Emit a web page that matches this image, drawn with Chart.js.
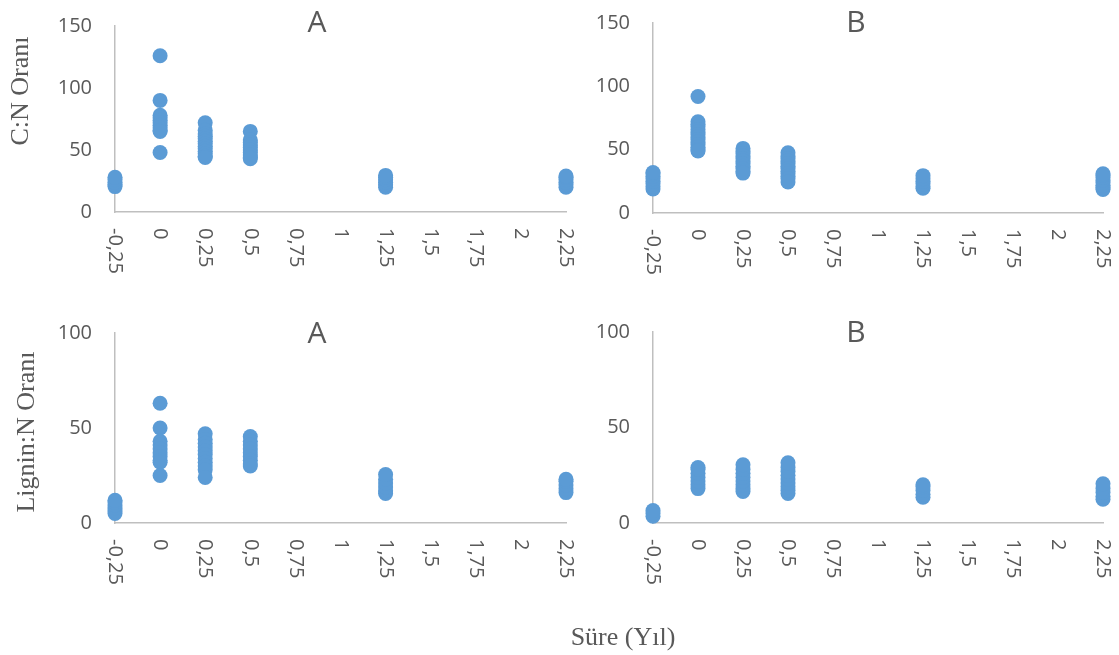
<!DOCTYPE html>
<html lang="tr">
<head>
<meta charset="utf-8">
<title>C:N ve Lignin:N Oranı</title>
<script src="https://cdn.jsdelivr.net/npm/chart.js@4.4.1/dist/chart.umd.min.js"></script>
<style>
  html, body { margin: 0; padding: 0; background: #fff; }
  #wrap { position: relative; width: 1119px; height: 655px; overflow: hidden; }
  canvas { position: absolute; }
  .lbl { position: absolute; color: #595959; line-height: 1; white-space: nowrap; transform: translate(-50%, -50%); }
  .panel-title { font-family: "Open Sans", sans-serif; font-size: 30px; }
  .axis-title { font-family: "Liberation Serif", "Times New Roman", serif; font-size: 26px; }
  .rot { transform: translate(-50%, -50%) rotate(-90deg); }
</style>
</head>
<body>
<div id="wrap">
  <canvas id="cnA" width="580" height="320" style="left:0;top:0"></canvas>
  <canvas id="cnB" width="539" height="320" style="left:580px;top:0"></canvas>
  <canvas id="lnA" width="580" height="335" style="left:0;top:320px"></canvas>
  <canvas id="lnB" width="539" height="335" style="left:580px;top:320px"></canvas>

  <div class="lbl panel-title" style="left:317px;top:21px">A</div>
  <div class="lbl panel-title" style="left:856px;top:21px">B</div>
  <div class="lbl panel-title" style="left:317px;top:332px">A</div>
  <div class="lbl panel-title" style="left:856px;top:331px">B</div>

  <div class="lbl axis-title rot" style="left:20px;top:91px">C:N Oranı</div>
  <div class="lbl axis-title rot" style="left:26px;top:432px">Lignin:N Oranı</div>
  <div class="lbl axis-title" style="left:623px;top:637px">Süre (Yıl)</div>
</div>

<script>
// sampling times (years) and axis ticks
const sampleTimes = [-0.25, 0, 0.25, 0.5, 1.25, 2.25];
const xTickValues = [-0.25, 0, 0.25, 0.5, 0.75, 1, 1.25, 1.5, 1.75, 2, 2.25];
const xTickLabels = ['-0,25', '0', '0,25', '0,5', '0,75', '1', '1,25', '1,5', '1,75', '2', '2,25'];
const yTicksCN = [0, 50, 100, 150];
const yTicksLN = [0, 50, 100];

// C:N ratio, one list per sampling time
const cnA = [
  [20.5, 22, 24, 26, 28],
  [126, 90, 78, 76, 74, 72, 70, 68, 66, 65, 48],
  [72, 66, 63, 61, 59, 57, 55, 53, 51, 49, 47, 45, 44],
  [65, 58, 56, 54, 52, 50, 48, 46, 44, 43],
  [20, 22, 24, 26, 28, 29.5],
  [20, 22, 24, 26, 28, 29]
];
const cnB = [
  [19, 21, 23, 25, 27, 29, 31, 32],
  [92, 72, 70, 68, 66, 64, 62, 60, 58, 56, 54, 52, 50, 49],
  [51, 49, 47, 45, 43, 41, 39, 37, 35, 33, 31.5],
  [47.5, 45, 43, 41, 39, 37, 35, 33, 31, 29, 27, 24.5],
  [19.5, 21, 23, 25, 27, 29.5],
  [18.5, 20, 22, 24, 26, 28, 30, 31]
];

// Lignin:N ratio
const lnA = [
  [5, 6.5, 8, 9.5, 11, 12],
  [63, 50, 43, 41, 39, 37, 35, 33, 32, 25],
  [47, 44, 42, 40, 38, 36, 34, 32, 30, 28, 24],
  [45.5, 43, 41, 39, 37, 35, 33, 31, 30],
  [15.5, 17, 19, 21, 23, 25.5],
  [16, 18, 20, 22, 23]
];
const lnB = [
  [3.5, 5, 6.5],
  [18, 20, 22, 24, 26, 28, 29],
  [16.5, 18, 20, 22, 24, 26, 28, 30.5],
  [15.5, 17, 19, 21, 23, 25, 27, 29, 31.5],
  [13.5, 15, 17, 19, 20],
  [12.5, 14, 16, 18, 20.5]
];

const toPoints = series => sampleTimes.flatMap((t, i) => series[i].map(v => ({ x: t, y: v })));

// tick labels: y horizontal, x turned clockwise like the original
const tickText = {
  id: 'tickText',
  afterDraw(chart) {
    const { ctx, chartArea, scales: { x, y } } = chart;
    ctx.save();
    ctx.fillStyle = '#595959';
    ctx.font = '20px "Open Sans"';
    ctx.textAlign = 'right';
    ctx.textBaseline = 'middle';
    y.ticks.forEach(t => ctx.fillText(String(t.value), chartArea.left - 23, y.getPixelForValue(t.value)));
    x.ticks.forEach((t, i) => {
      ctx.save();
      ctx.translate(x.getPixelForValue(t.value), chartArea.bottom + 16);
      ctx.rotate(Math.PI / 2);
      ctx.textAlign = 'left';
      ctx.fillText(xTickLabels[i], 0, 0);
      ctx.restore();
    });
    ctx.restore();
  }
};

function makeChart(id, series, yTicks, padding) {
  const axisBorder = { display: true, color: '#bfbfbf', width: 1.5 };
  new Chart(document.getElementById(id), {
    type: 'scatter',
    data: {
      datasets: [{
        data: toPoints(series),
        backgroundColor: '#5b9bd5',
        borderWidth: 0,
        pointRadius: 7.5,
        pointHoverRadius: 7.5,
        clip: false
      }]
    },
    options: {
      responsive: false,
      animation: false,
      layout: { padding: padding },
      plugins: { legend: { display: false }, tooltip: { enabled: false } },
      scales: {
        x: {
          type: 'linear',
          min: xTickValues[0],
          max: xTickValues[xTickValues.length - 1],
          afterBuildTicks: s => { s.ticks = xTickValues.map(v => ({ value: v })); },
          ticks: { display: false },
          grid: { display: false, drawTicks: false },
          border: axisBorder
        },
        y: {
          min: yTicks[0],
          max: yTicks[yTicks.length - 1],
          afterBuildTicks: s => { s.ticks = yTicks.map(v => ({ value: v })); },
          ticks: { display: false },
          grid: { display: false, drawTicks: false },
          border: axisBorder
        }
      }
    },
    plugins: [tickText]
  });
}

makeChart('cnA', cnA, yTicksCN, { left: 115, right: 14, top: 26, bottom: 108 });
makeChart('cnB', cnB, yTicksCN, { left: 73, right: 16, top: 23, bottom: 107 });
makeChart('lnA', lnA, yTicksLN, { left: 115, right: 14, top: 13, bottom: 132 });
makeChart('lnB', lnB, yTicksLN, { left: 73, right: 16, top: 12, bottom: 132 });
</script>
</body>
</html>
